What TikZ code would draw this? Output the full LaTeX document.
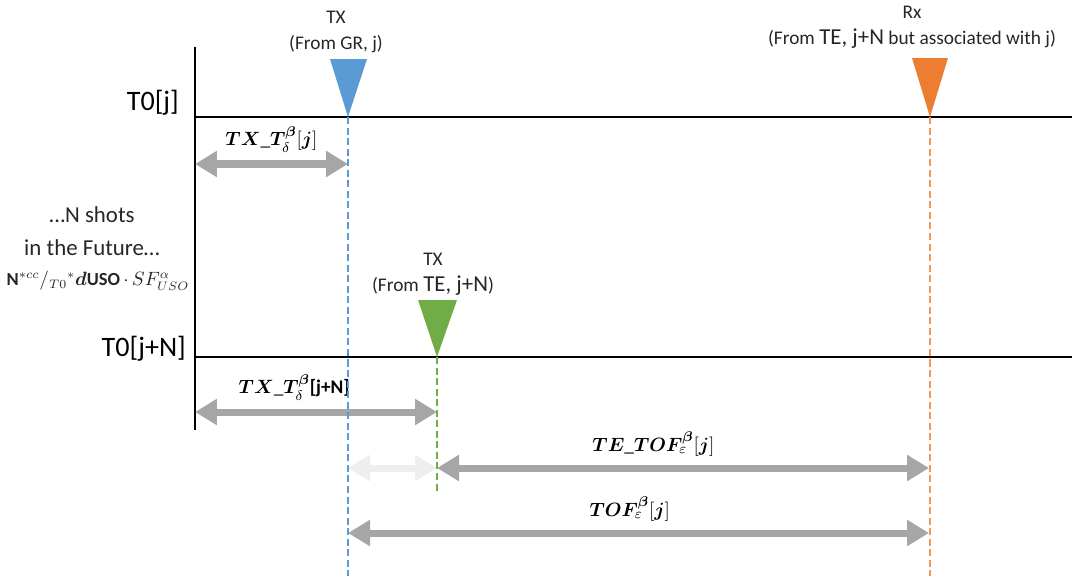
\documentclass[tikz,border=0pt]{standalone}
\usepackage{fontspec}
\setmainfont{Carlito}
\usepackage{amsmath}
\usepackage{bm}
\usetikzlibrary{arrows.meta,positioning,calc}
\definecolor{txblue}{RGB}{91,155,213}
\definecolor{rxorange}{RGB}{237,125,49}
\definecolor{txgreen}{RGB}{112,173,71}
\definecolor{spangray}{RGB}{166,166,166}
\definecolor{ghostgray}{RGB}{238,238,238}
\tikzset{
    axis/.style = {draw, line width=1.1pt},
    drop/.style = {draw, line width=0.6pt, dash pattern=on 4pt off 2pt},
    span/.style = {draw=spangray, line width=4pt,
        {Triangle[length=0.44cm,width=0.5cm]}-{Triangle[length=0.44cm,width=0.5cm]}},
    lbl/.style = {align=center, text=black!85, font=\fontsize{11}{15}\selectfont},
    tlbl/.style = {anchor=east, font=\fontsize{16}{18}\selectfont},
    mlbl/.style = {font=\fontsize{11}{12}\selectfont, above=1.5pt}
}
\newcommand{\bigte}{{\fontsize{13}{15}\selectfont TE, j+N}}

\begin{document}
\begin{tikzpicture}[x=0.02cm, y=-0.02cm]
    \useasboundingbox (0,0) rectangle (1084,576);
    % time axes
    \coordinate (top) at (195,47);
    \coordinate (bottom) at (195,430);
    \draw[axis] (top) -- (bottom);
    \coordinate (jstart) at (195,117);
    \coordinate (jend) at (1072,117);
    \draw[axis] (jstart) -- (jend);
    \coordinate (nstart) at (195,357);
    \coordinate (nend) at (1072,357);
    \draw[axis] (nstart) -- (nend);
    \node[tlbl] (t0j) at (185,103) {T0[j]};
    \node[tlbl] (t0n) at (192,349) {T0[j+N]};
    \node[align=center, text=black!85, font=\fontsize{13}{19}\selectfont] (shots) at (92,231) {\dots N shots\\in the Future\dots};
    \node[text=black!85, font=\fontsize{10.5}{12}\selectfont] (scale) at (98,281)
        {\textbf{N}$^{*cc}/_{T0}{}^{*}\bm{d}$\textbf{USO}$\,\cdot\,SF^{\alpha}_{USO}$};

    % markers
    \coordinate (txj) at (348,117);
    \fill[txblue] (txj) -- ++(-18,-58) -- ++(37,0) -- cycle;
    \node[lbl] (txjlbl) at (336,32) {TX\\(From GR, j)};
    \coordinate (txn) at (437,357);
    \fill[txgreen] (txn) -- ++(-19,-57) -- ++(39,0) -- cycle;
    \node[lbl] (txnlbl) at (433,274) {TX\\(From \bigte)};
    \coordinate (rxj) at (930,117);
    \fill[rxorange] (rxj) -- ++(-18,-59) -- ++(36,0) -- cycle;
    \node[lbl] (rxjlbl) at (912,27) {Rx\\(From \bigte{} but associated with j)};

    % spans
    \coordinate (sj0) at (195,164);   \coordinate (sj1) at (348,164);
    \coordinate (sn0) at (195,412);   \coordinate (sn1) at (437,412);
    \coordinate (se0) at (348,468);   \coordinate (se1) at (437,468);
    \coordinate (se2) at (929,468);
    \coordinate (so0) at (348,533);   \coordinate (so1) at (929,533);
    \draw[span] (sj0) -- node[mlbl, pos=0.5] {$\bm{TX\_T}^{\bm{\beta}}_{\delta}[\bm{j}]$} (sj1);
    \draw[span] (sn0) -- node[mlbl, pos=0.41] {$\bm{TX\_T}^{\bm{\beta}}_{\delta}$\textbf{[j+N]}} (sn1);
    \draw[span, draw=ghostgray] (se0) -- (se1);
    \draw[span] (se1) -- node[mlbl, pos=0.44] {$\bm{TE\_TOF}^{\bm{\beta}}_{\varepsilon}[\bm{j}]$} (se2);
    \draw[span] (so0) -- node[mlbl, pos=0.485] {$\bm{TOF}^{\bm{\beta}}_{\varepsilon}[\bm{j}]$} (so1);

    % drop lines
    \coordinate (txjfoot) at (348,576);
    \coordinate (txnfoot) at (437,493);
    \coordinate (rxjfoot) at (930,576);
    \draw[drop, txblue] (txj) -- (txjfoot);
    \draw[drop, txgreen] (txn) -- (txnfoot);
    \draw[drop, rxorange!80] (rxj) -- (rxjfoot);
\end{tikzpicture}
\end{document}
